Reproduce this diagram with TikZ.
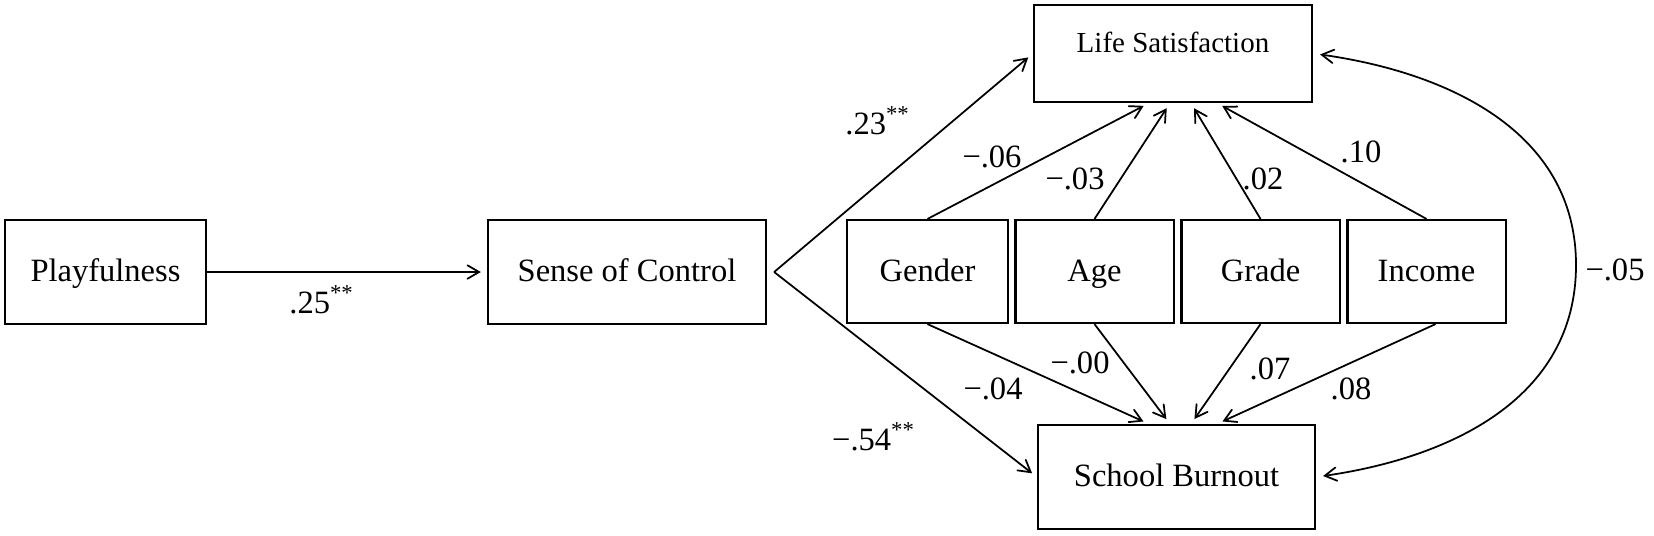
\documentclass[tikz,border=0pt]{standalone}
\usepackage{fontspec}
\setmainfont{Liberation Serif}
\usetikzlibrary{arrows}

\begin{document}
\begin{tikzpicture}[x=0.01cm, y=-0.01cm, >=angle 60,
	var/.style={draw, line width=0.6pt, minimum height=1.04cm, inner sep=0pt, text height=1.6ex, text depth=0.4ex, font=\fontsize{9.25}{11}\selectfont},
	cov/.style={var, minimum width=1.58cm, minimum height=1.03cm},
	coef/.style={inner sep=0pt, font=\fontsize{9.25}{11}\selectfont}]
\useasboundingbox (0,0) rectangle (1654,535);
% boxes
\node[var, minimum width=2.01cm] (play) at (105.5,272) {Playfulness};
\node[var, minimum width=2.78cm] (soc) at (627,272) {Sense of Control};
\node[var, minimum width=2.78cm, minimum height=0.97cm, text depth=0.27cm, font=\fontsize{8.25}{10}\selectfont] (ls) at (1173,53.5) {Life Satisfaction};
\node[var, minimum width=2.77cm] (sb) at (1176.5,477) {School Burnout};
\node[cov, minimum width=1.61cm] (gen) at (927.5,271.5) {Gender};
\node[cov] (age) at (1094.5,271.5) {Age};
\node[cov] (grd) at (1260.5,271.5) {Grade};
\node[cov] (inc) at (1426.5,271.5) {Income};
\coordinate (bend) at (1576,265);

\path[->, line width=0.5pt, shorten >=0.06cm]
(play) edge (soc)
([xshift=0.07cm]soc.east) edge (ls.west)
([xshift=0.07cm]soc.east) edge (sb.west)
(gen.north) edge ([xshift=-0.24cm]ls.south)
(age.north) edge ([xshift=-0.03cm]ls.south)
(grd.north) edge ([xshift=0.18cm]ls.south)
(inc.north) edge ([xshift=0.44cm]ls.south)
(gen.south) edge ([xshift=-0.275cm]sb.north)
(age.south) edge ([xshift=-0.065cm]sb.north)
(grd.south) edge ([xshift=0.145cm]sb.north)
([xshift=0.09cm]inc.south) edge ([xshift=0.405cm]sb.north)
;
\draw[<->, line width=0.5pt, shorten <=0.07cm, shorten >=0.07cm]
(ls.east) .. controls (1445,72) and (1576,130) .. (bend)
.. controls (1576,400) and (1448,458) .. (sb.east);

% coefficients
\node[coef] (c25) at (322,300) {.25\textsuperscript{**}};
\node[coef] (c23) at (878,121) {.23\textsuperscript{**}};
\node[coef] (c54) at (874,437) {−.54\textsuperscript{**}};
\node[coef] (c06) at (992,157) {−.06};
\node[coef] (c03) at (1075,179) {−.03};
\node[coef] (c02) at (1263,179) {.02};
\node[coef] (c10) at (1361,152) {.10};
\node[coef] (c04) at (993,389) {−.04};
\node[coef] (c00) at (1080,363) {−.00};
\node[coef] (c07) at (1270,369) {.07};
\node[coef] (c08) at (1351,389) {.08};
\node[coef] (c05) at (1615,270) {−.05};
\end{tikzpicture}
\end{document}
